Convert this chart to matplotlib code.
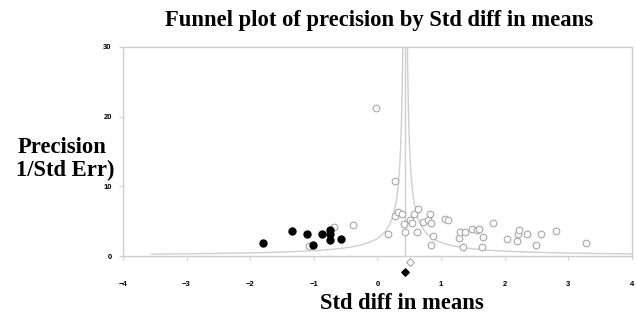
import numpy as np
import matplotlib
matplotlib.use("Agg")
import matplotlib.pyplot as plt

# =========================================================
# DATA
# =========================================================

# observed studies (open circles)
obs_x = [-0.02, 0.27, 0.28, 0.33, 0.39, 0.16, 0.42, 0.43, 0.51, 0.55,
         0.57, 0.63, 0.62, 0.72, 0.80, 0.82, 0.85, 0.87, 0.85, 1.06,
         1.11, 1.28, 1.30, 1.38, 1.35, 1.48, 1.56, 1.59, 1.66, 1.64,
         1.82, 2.04, 2.20, 2.21, 2.23, 2.35, 2.49, 2.57, 2.81, 3.28,
         -0.69, -0.38, -1.08]
obs_y = [21.3, 10.7, 5.8, 6.3, 6.0, 3.2, 4.6, 3.4, 5.2, 4.8,
         6.1, 6.7, 3.4, 4.9, 5.1, 6.0, 4.8, 2.9, 1.6, 5.3,
         5.2, 2.6, 3.4, 3.5, 1.3, 3.9, 3.7, 3.9, 2.8, 1.3,
         4.8, 2.4, 2.2, 3.1, 3.7, 3.1, 1.6, 3.2, 3.6, 1.9,
         4.1, 4.4, 1.4]

# imputed studies (filled circles)
imp_x = [-1.80, -1.34, -1.10, -1.02, -0.87, -0.75, -0.75, -0.74, -0.57]
imp_y = [1.9, 3.6, 3.2, 1.6, 3.1, 3.7, 3.2, 2.3, 2.4]

# summary effects (diamonds below the axis)
obs_mean, obs_mean_y = 0.51, -0.9
adj_mean, adj_mean_y = 0.435, -2.3

# funnel settings
funnel_center = 0.435
funnel_k = 1.1
prec_min = 0.276

x_ticks = [-4, -3, -2, -1, 0, 1, 2, 3, 4]
y_ticks = [0, 10, 20, 30]

# =========================================================
# FIGURE
# =========================================================

grey = "#cfcfcf"
serif = "Liberation Serif"

fig = plt.figure(figsize=(6.37, 3.13), dpi=100)
ax = fig.add_axes([0.193, 0.182, 0.799, 0.668])

# funnel lines
prec = np.geomspace(prec_min, 40, 400)
ax.plot(funnel_center - funnel_k / prec, prec, color=grey, lw=1.0)
ax.plot(funnel_center + funnel_k / prec, prec, color=grey, lw=1.0)
ax.axvline(funnel_center, color=grey, lw=1.0)

# studies
ax.scatter(obs_x, obs_y, s=23, facecolors="white",
           edgecolors="#a8a8a8", linewidths=0.8, zorder=3)
ax.scatter(imp_x, imp_y, s=25, color="black", zorder=4)

# summary diamonds
ax.scatter([obs_mean], [obs_mean_y], marker="D", s=16, facecolors="white",
           edgecolors="#a8a8a8", linewidths=0.8, clip_on=False, zorder=4)
ax.scatter([adj_mean], [adj_mean_y], marker="D", s=14, color="black",
           clip_on=False, zorder=4)

ax.set_xlim(-4, 4)
ax.set_ylim(0, 30)
ax.set_xticks(x_ticks)
ax.set_yticks(y_ticks)

for s in ax.spines.values():
    s.set_color(grey)
    s.set_linewidth(1.0)

ax.tick_params(axis="both", colors=grey, length=3, width=0.8)
ax.tick_params(axis="x", pad=15)
ax.tick_params(axis="y", pad=5)
for lab in ax.get_xticklabels() + ax.get_yticklabels():
    lab.set_color("black")
    lab.set_fontsize(5.5)
    lab.set_fontweight("bold")
    lab.set_family("Liberation Sans")

# texts
fig.text(0.595, 0.936, "Funnel plot of precision by Std diff in means",
         ha="center", va="center", fontsize=16.3, fontweight="bold",
         family=serif)
fig.text(0.631, 0.029, "Std diff in means", ha="center", va="center",
         fontsize=16.3, fontweight="bold", family=serif)
fig.text(0.097, 0.530, "Precision", ha="center", va="center",
         fontsize=16.3, fontweight="bold", family=serif)
fig.text(0.102, 0.457, "1/Std Err)", ha="center", va="center",
         fontsize=16.3, fontweight="bold", family=serif)

fig.savefig("out.png", dpi=100)
